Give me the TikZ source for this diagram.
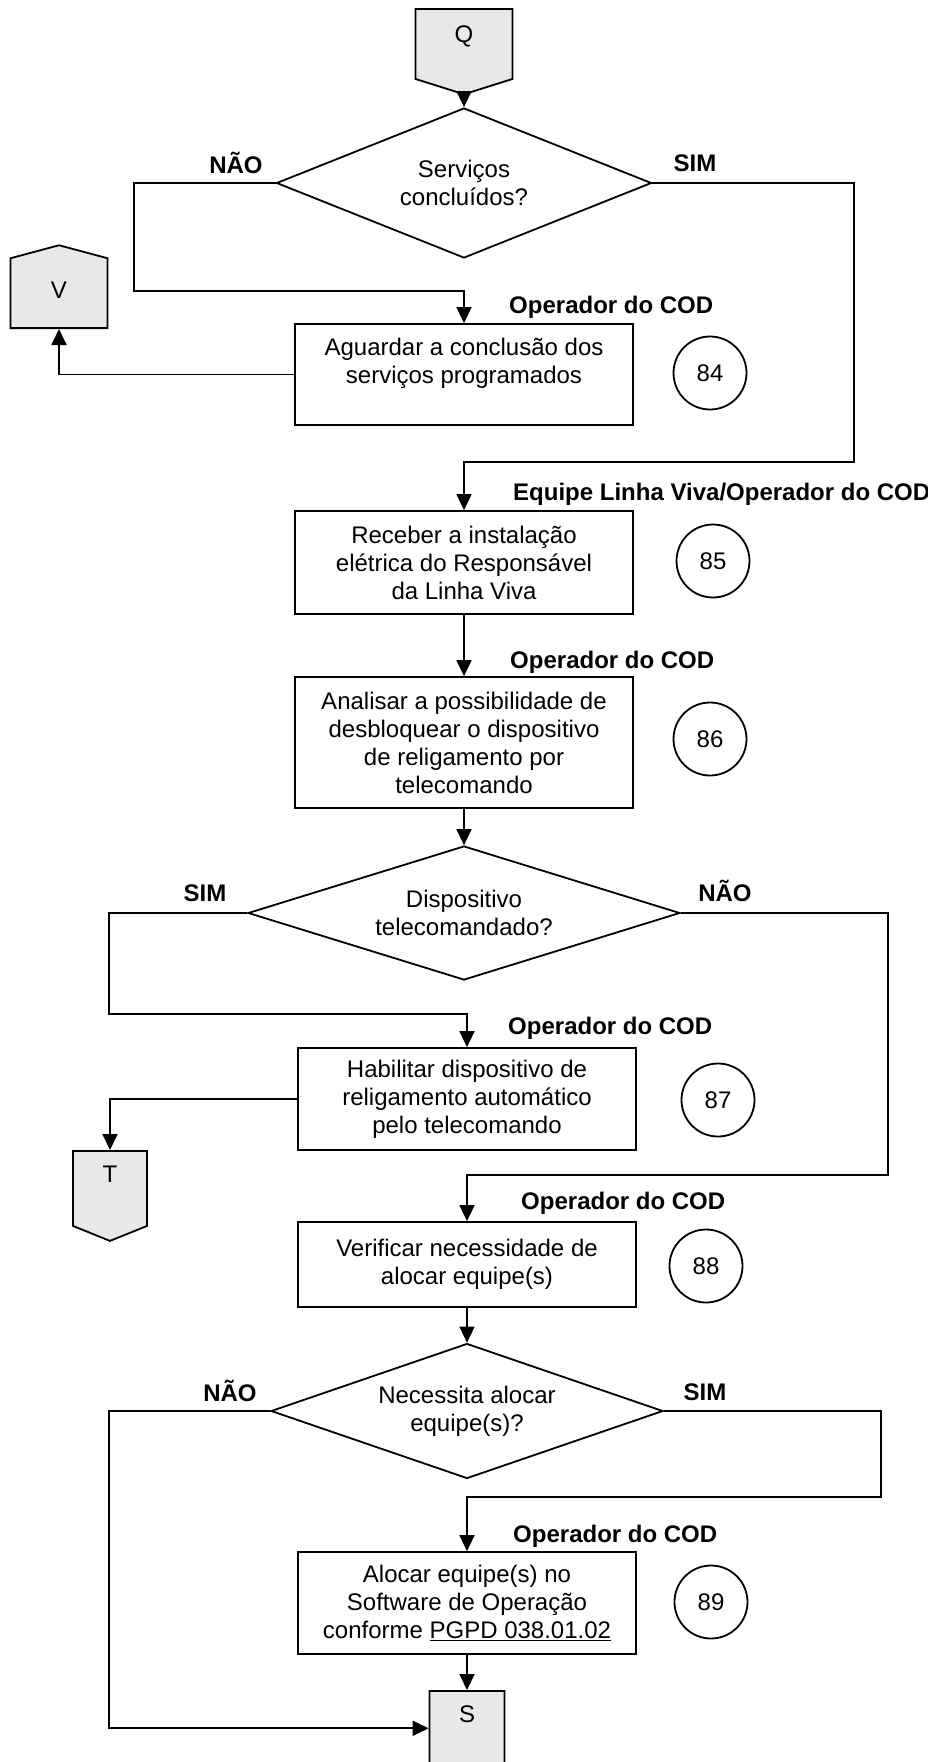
\documentclass[tikz,border=0pt]{standalone}
\usepackage{fontspec}
\setmainfont{Liberation Sans}
\usetikzlibrary{arrows.meta}
\usetikzlibrary{shapes.geometric}
\usetikzlibrary{shapes.symbols}
\usetikzlibrary{positioning}

\begin{document}
\begin{tikzpicture}[->,>={Triangle[length=16pt,width=15pt]},x=1pt,y=-1pt,line width=1.8pt,
    every node/.style={font=\fontsize{24pt}{28pt}\selectfont},
    proc node/.style={rectangle,draw,align=center,minimum width=338pt,inner sep=0pt},
    dec node/.style={diamond,draw,align=center,aspect=2.5,inner sep=0pt},
    num node/.style={circle,draw,minimum size=73pt,inner sep=0pt},
    con node/.style={signal,draw,fill=black!9,signal from=nowhere,inner sep=0pt,text height=17pt},
    role node/.style={anchor=base west,font=\fontsize{24pt}{28pt}\selectfont\bfseries},
    ans node/.style={font=\fontsize{24pt}{28pt}\selectfont\bfseries}
    ]
    \useasboundingbox (0,0) rectangle (927,1762);

    \node[con node,signal to=south,signal pointer angle=145,minimum width=97pt,minimum height=73pt,text depth=20pt,anchor=north] (q) at (464,8) {Q};
    \node[dec node,minimum width=375pt,minimum height=150pt] (d1) at (464,183) {Serviços\\concluídos?};
    \node[ans node] (n1) at (236,163) {NÃO};
    \node[ans node] (s1) at (695,163) {SIM};

    \node[proc node,minimum height=101pt] (p84) at (464,374.5) {Aguardar a conclusão dos\\serviços programados\\~};
    \node[role node] (r84) at (505,313.5) {Operador do COD};
    \node[num node] (c84) at (710,373) {84};
    \node[con node,signal to=north,signal pointer angle=150,minimum width=97pt,minimum height=72pt,text depth=6pt,anchor=south] (v) at (59,329) {V};

    \node[proc node,minimum height=103pt] (p85) at (464,562.5) {Receber a instalação\\elétrica do Responsável\\da Linha Viva};
    \node[role node] (r85) at (509,500.5) {Equipe Linha Viva/Operador do COD};
    \node[num node] (c85) at (713,561) {85};

    \node[proc node,minimum height=131pt] (p86) at (464,742.5) {Analisar a possibilidade de\\desbloquear o dispositivo\\de religamento por\\telecomando};
    \node[role node] (r86) at (506,668.5) {Operador do COD};
    \node[num node] (c86) at (710,739) {86};

    \node[dec node,minimum width=432pt,minimum height=134pt] (d2) at (464,913) {Dispositivo\\telecomandado?};
    \node[ans node] (s2) at (205,893) {SIM};
    \node[ans node] (n2) at (725,891) {NÃO};

    \node[proc node,minimum height=102pt] (p87) at (467,1099) {Habilitar dispositivo de\\religamento automático\\pelo telecomando};
    \node[role node] (r87) at (504,1034.5) {Operador do COD};
    \node[num node] (c87) at (718,1100) {87};
    \node[con node,signal to=south,signal pointer angle=136,minimum width=74pt,minimum height=78pt,text depth=28pt,anchor=north] (t) at (110,1150) {T};

    \node[proc node,minimum height=85pt] (p88) at (467,1264.5) {Verificar necessidade de\\alocar equipe(s)};
    \node[role node] (r88) at (517,1209.5) {Operador do COD};
    \node[num node] (c88) at (706,1266) {88};

    \node[dec node,minimum width=392pt,minimum height=135pt] (d3) at (467,1411) {Necessita alocar\\equipe(s)?};
    \node[ans node] (n3) at (230,1391) {NÃO};
    \node[ans node] (s3) at (705,1392) {SIM};

    \node[proc node,minimum height=102pt] (p89) at (467,1603) {Alocar equipe(s) no\\Software de Operação\\conforme \underline{PGPD 038.01.02}};
    \node[role node] (r89) at (509,1542.5) {Operador do COD};
    \node[num node] (c89) at (711,1602) {89};
    \node[con node,signal to=south,signal pointer angle=136,minimum width=75pt,minimum height=78pt,text depth=28pt,anchor=north] (s) at (467,1690) {S};

    \draw (q.south) -- (d1.north);
    \draw (d1.west) -| (134,291) -| (p84.north);
    \draw (d1.east) -| (854,462) -| (p85.north);
    \draw (p84.west) -| (v.south);
    \draw (p85.south) -- (p86.north);
    \draw (p86.south) -- (d2.north);
    \draw (d2.west) -| (109,1014) -| (p87.north);
    \draw (d2.east) -| (888,1175) -| (p88.north);
    \draw (p87.west) -| (t.north);
    \draw (p88.south) -- (d3.north);
    \draw (d3.west) -- (109,1411) |- (s.west);
    \draw (d3.east) -| (881,1497) -| (p89.north);
    \draw (p89.south) -- (s.north);
\end{tikzpicture}
\end{document}
